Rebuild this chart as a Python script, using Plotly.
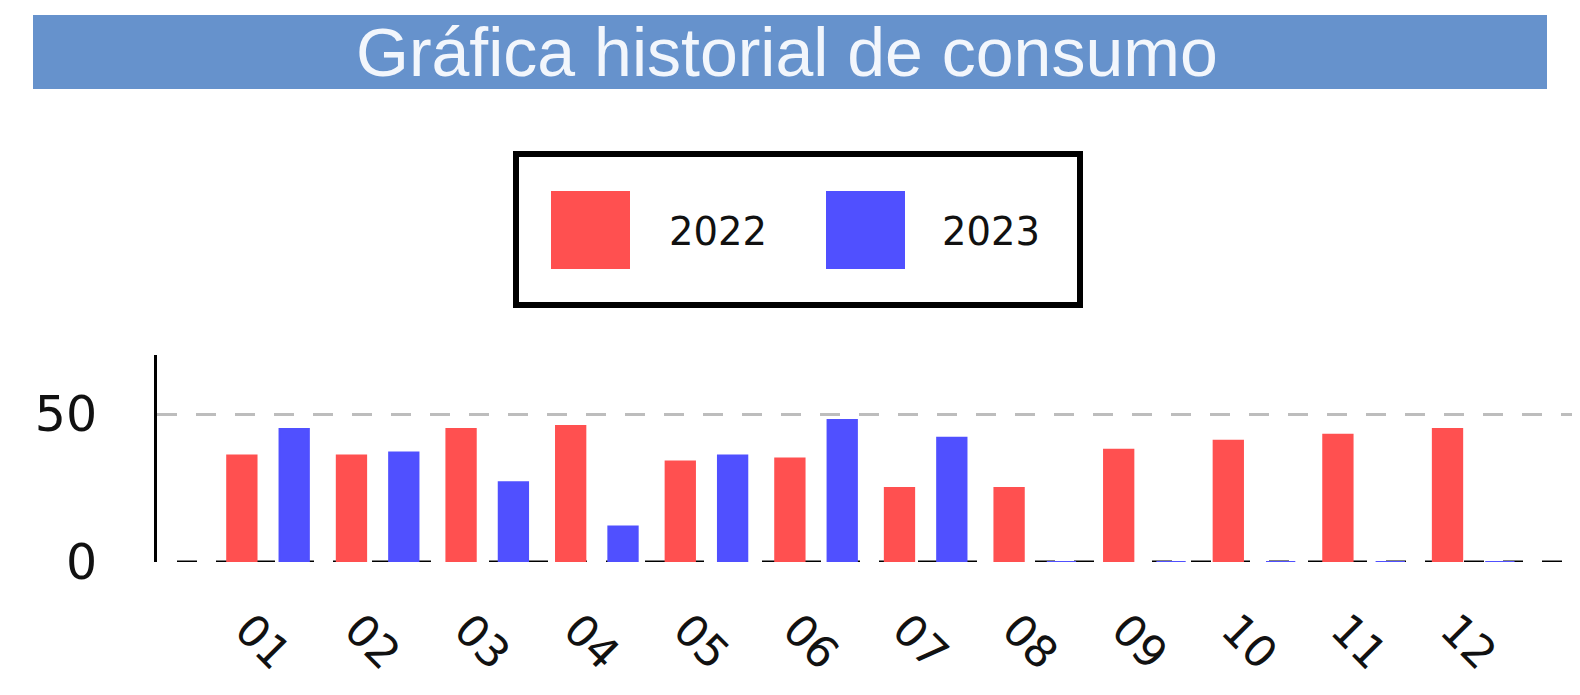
import plotly.graph_objects as go

# ---- data ----
months = ["01", "02", "03", "04", "05", "06", "07", "08", "09", "10", "11", "12"]
consumo_2022 = [36, 36, 45, 46, 34, 35, 25, 25, 38, 41, 43, 45]
consumo_2023 = [45, 37, 27, 12, 36, 48, 42, 0, 0, 0, 0, 0]
series_names = ["2022", "2023"]
series_colors = ["#ff5050", "#5050ff"]
title_text = "Gráfica historial de consumo"

# ---- layout geometry (page pixels; page body has an 8px margin) ----
OFF = 8
W, H = 1580 - OFF, 695 - OFF
L, R, T = 157 - OFF, 0, 355 - OFF
B = H - (562 - OFF)
PW, PH = W - L - R, H - T - B


def px2x(px):
    return (px - OFF - L) / PW


def px2y(py):
    return (H - B - (py - OFF)) / PH


fig = go.Figure()
for name, vals, col in zip(series_names, [consumo_2022, consumo_2023], series_colors):
    fig.add_trace(go.Bar(x=months, y=vals, name=name,
                         marker=dict(color=col, line=dict(width=2, color=col))))

shapes = []
annotations = []

# title banner
shapes.append(dict(type="rect", xref="paper", yref="paper",
                   x0=px2x(33), x1=px2x(1547), y0=px2y(89), y1=px2y(15),
                   fillcolor="#6692cc", line=dict(width=0), layer="below"))
annotations.append(dict(text=title_text, xref="paper", yref="paper",
                        x=px2x(787), y=px2y(52), xanchor="center", yanchor="middle",
                        showarrow=False,
                        font=dict(family="Liberation Sans, Arial", size=68, color="#f2f6fc")))

# custom legend box
shapes.append(dict(type="rect", xref="paper", yref="paper",
                   x0=px2x(516), x1=px2x(1080), y0=px2y(305), y1=px2y(154),
                   fillcolor="white", line=dict(width=6, color="black")))
sw_left = [551, 826]
txt_left = [667, 940]
for i, name in enumerate(series_names):
    shapes.append(dict(type="rect", xref="paper", yref="paper",
                       x0=px2x(sw_left[i]), x1=px2x(sw_left[i] + 79),
                       y0=px2y(269), y1=px2y(191),
                       fillcolor=series_colors[i], line=dict(width=0)))
    annotations.append(dict(text=name, xref="paper", yref="paper",
                            x=px2x(txt_left[i]), y=px2y(231),
                            xanchor="left", yanchor="middle", showarrow=False,
                            font=dict(family="DejaVu Sans", size=38.5, color="#111")))

# dashed black baseline at zero
shapes.append(dict(type="line", xref="paper", yref="y", layer="between",
                   x0=px2x(157 + 20), x1=1, y0=0, y1=0,
                   line=dict(color="black", width=3, dash="20px,19px")))

fig.update_layout(
    width=W, height=H, autosize=False,
    margin=dict(l=L, r=R, t=T, b=B, pad=0),
    paper_bgcolor="white", plot_bgcolor="white",
    barmode="group", bargap=0.045, bargroupgap=0.44,
    showlegend=False,
    shapes=shapes, annotations=annotations,
    font=dict(family="DejaVu Sans", color="#111"),
)
fig.update_xaxes(type="category", range=[-1.013, 11.97], showgrid=False,
                 showline=False, zeroline=False, ticks="",
                 tickangle=45, tickfont=dict(family="DejaVu Sans", size=44, color="#111"),
                 ticklabelstandoff=32, ticklabelshift=-20)
fig.update_yaxes(range=[0, 70], tickvals=[0, 50], showgrid=True,
                 gridcolor="#bdbdbd", gridwidth=3, griddash="20px,19px",
                 zeroline=False, showline=True, linecolor="black", linewidth=3,
                 ticks="", tickfont=dict(family="DejaVu Sans", size=49, color="#111"),
                 ticklabelstandoff=47)

fig.write_html("out.html")
